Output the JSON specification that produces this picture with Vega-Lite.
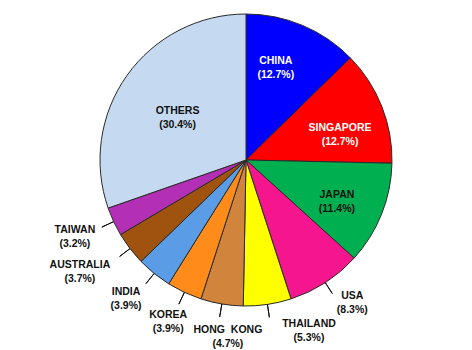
{
  "$schema": "https://vega.github.io/schema/vega-lite/v6.json",
  "width": 452,
  "height": 320,
  "autosize": {"type": "none"},
  "padding": {"left": 20, "top": 0, "right": 0, "bottom": 30},
  "background": "white",
  "config": {
    "view": {"stroke": null},
    "text": {"font": "Liberation Sans", "fontSize": 10.5, "fontWeight": "bold", "lineBreak": "\n", "lineHeight": 14, "fill": "#111", "align": "center", "baseline": "middle"}
  },
  "data": {
    "values": [
      {"rank": 1, "country": "CHINA", "label": "CHINA\n(12.7%)", "share": 12.7},
      {"rank": 2, "country": "SINGAPORE", "label": "SINGAPORE\n(12.7%)", "share": 12.7},
      {"rank": 3, "country": "JAPAN", "label": "JAPAN\n(11.4%)", "share": 11.4},
      {"rank": 4, "country": "USA", "label": "USA\n(8.3%)", "share": 8.3},
      {"rank": 5, "country": "THAILAND", "label": "THAILAND\n(5.3%)", "share": 5.3},
      {"rank": 6, "country": "HONG KONG", "label": "HONG \u00a0KONG\n(4.7%)", "share": 4.7},
      {"rank": 7, "country": "KOREA", "label": "KOREA\n(3.9%)", "share": 3.9},
      {"rank": 8, "country": "INDIA", "label": "INDIA\n(3.9%)", "share": 3.9},
      {"rank": 9, "country": "AUSTRALIA", "label": "AUSTRALIA\n(3.7%)", "share": 3.7},
      {"rank": 10, "country": "TAIWAN", "label": "TAIWAN\n(3.2%)", "share": 3.2},
      {"rank": 11, "country": "OTHERS", "label": "OTHERS\n(30.4%)", "share": 30.4}
    ]
  },
  "encoding": {
    "theta": {"field": "share", "type": "quantitative", "stack": true},
    "order": {"field": "rank", "type": "quantitative"},
    "detail": {"field": "country", "type": "nominal"}
  },
  "layer": [
    {
      "mark": {"type": "arc", "outerRadius": 146, "stroke": "#2a2a2a", "strokeWidth": 1},
      "encoding": {
        "color": {
          "field": "country",
          "type": "nominal",
          "legend": null,
          "scale": {
            "domain": ["CHINA", "SINGAPORE", "JAPAN", "USA", "THAILAND", "HONG KONG", "KOREA", "INDIA", "AUSTRALIA", "TAIWAN", "OTHERS"],
            "range": ["#0000FF", "#FF0000", "#00B050", "#F5158E", "#FFFF00", "#D0843C", "#FF8C1A", "#5B9CE6", "#A0520F", "#B32FB5", "#C5D9F1"]
          }
        }
      }
    },
    {
      "mark": {"type": "arc", "innerRadius": 146, "outerRadius": 159, "padAngle": 3, "fill": "transparent", "stroke": "#111", "strokeWidth": 1},
      "encoding": {
        "strokeOpacity": {"condition": {"test": "datum.rank >= 4 && datum.rank <= 10", "value": 1}, "value": 0}
      }
    },
    {
      "mark": {"type": "text", "radius": 100, "dx": -9, "dy": -7, "fill": "white"},
      "encoding": {"text": {"condition": {"test": "datum.rank == 1", "field": "label"}, "value": ""}}
    },
    {
      "mark": {"type": "text", "radius": 100, "dx": 1, "dy": 5, "fill": "white"},
      "encoding": {"text": {"condition": {"test": "datum.rank == 2", "field": "label"}, "value": ""}}
    },
    {
      "mark": {"type": "text", "radius": 100, "dx": -2, "dy": -2},
      "encoding": {"text": {"condition": {"test": "datum.rank == 3", "field": "label"}, "value": ""}}
    },
    {
      "mark": {"type": "text", "radius": 84},
      "encoding": {"text": {"condition": {"test": "datum.rank == 11", "field": "label"}, "value": ""}}
    },
    {
      "mark": {"type": "text", "radius": 170, "dx": 14, "dy": -7},
      "encoding": {"text": {"condition": {"test": "datum.rank == 4", "field": "label"}, "value": ""}}
    },
    {
      "mark": {"type": "text", "radius": 170, "dx": 38, "dy": -4},
      "encoding": {"text": {"condition": {"test": "datum.rank == 5", "field": "label"}, "value": ""}}
    },
    {
      "mark": {"type": "text", "radius": 170, "dx": 10, "dy": 2},
      "encoding": {"text": {"condition": {"test": "datum.rank == 6", "field": "label"}, "value": ""}}
    },
    {
      "mark": {"type": "text", "radius": 170, "dx": -6, "dy": 1},
      "encoding": {"text": {"condition": {"test": "datum.rank == 7", "field": "label"}, "value": ""}}
    },
    {
      "mark": {"type": "text", "radius": 170, "dx": -13, "dy": 0},
      "encoding": {"text": {"condition": {"test": "datum.rank == 8", "field": "label"}, "value": ""}}
    },
    {
      "mark": {"type": "text", "radius": 170, "dx": -31, "dy": 2},
      "encoding": {"text": {"condition": {"test": "datum.rank == 9", "field": "label"}, "value": ""}}
    },
    {
      "mark": {"type": "text", "radius": 170, "dx": -17, "dy": -2},
      "encoding": {"text": {"condition": {"test": "datum.rank == 10", "field": "label"}, "value": ""}}
    }
  ]
}
